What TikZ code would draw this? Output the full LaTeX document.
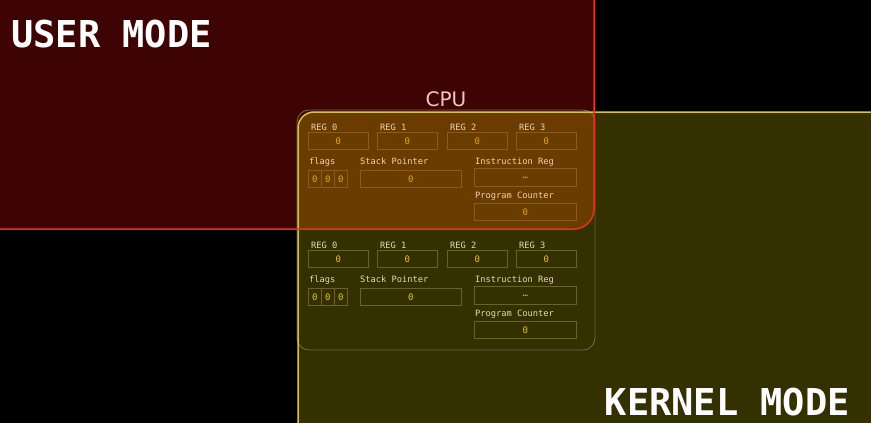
\documentclass[tikz,border=0pt]{standalone}
\usepackage{fontspec}
\setmainfont{DejaVu Sans}
\setsansfont{DejaVu Sans}
\setmonofont{DejaVu Sans Mono}
\usetikzlibrary{positioning}

\definecolor{usrfill}{HTML}{3E0404}
\definecolor{usrline}{HTML}{E8321C}
\definecolor{krnfill}{HTML}{343000}
\definecolor{krnline}{HTML}{D8C040}
\definecolor{ovlfill}{HTML}{6B3C00}
\definecolor{cpuline}{HTML}{6E6450}
\definecolor{usrfield}{HTML}{8A5A22}
\definecolor{krnfield}{HTML}{6A6222}
\definecolor{usrtext}{HTML}{F0D2B4}
\definecolor{usrval}{HTML}{E8A422}
\definecolor{krntext}{HTML}{E2DAC0}
\definecolor{krnval}{HTML}{E8C422}
\definecolor{cputext}{HTML}{F4C4C4}

\tikzset{
  modebox/.style={line width=1.5pt, rounded corners=16pt},
  modetitle/.style={
    text=white,
    inner sep=0pt,
    font=\ttfamily\bfseries\fontsize{37}{37}\selectfont
  },
  fieldbox/.style={
    draw=#1,
    line width=0.8pt,
    inner sep=0pt,
    anchor=north west,
    font=\ttfamily\fontsize{9}{9}\selectfont
  },
  fieldname/.style={
    inner sep=0pt,
    anchor=base west,
    font=\ttfamily\fontsize{8.7}{8.7}\selectfont
  }
}

\begin{document}
\begin{tikzpicture}[x=1pt, y=-1pt]

% Canvas
\useasboundingbox (0,0) rectangle (871,423);
\fill[black] (0,0) rectangle (871,423);
\clip (0,0) rectangle (871,423);

% Mode areas
\fill[krnfill, modebox] (298,112) rectangle (900,450);
\fill[usrfill, modebox, rounded corners=20pt] (-30,-30) rectangle (594,229);
\begin{scope}
  \clip[rounded corners=20pt] (-30,-30) rectangle (594,229);
  \fill[ovlfill, modebox] (298,112) rectangle (900,450);
\end{scope}

% CPU outline
\draw[cpuline, line width=0.9pt, rounded corners=12pt] (297,110) rectangle (595,350);
\node[text=cputext, font=\sffamily\fontsize{20}{20}\selectfont, inner sep=0pt, anchor=base] (cpu) at (446,106) {CPU};

\draw[krnline, modebox] (298,112) rectangle (900,450);
\draw[usrline, modebox, rounded corners=20pt] (-30,-30) rectangle (594,229);

% Titles
\node[modetitle, anchor=base west] (usermode) at (11,47) {USER MODE};
\node[modetitle, anchor=base east] (kernelmode) at (850,415) {KERNEL MODE};

% Register sets
\foreach \p/\dy/\lc/\vc/\bc in {u/0/usrtext/usrval/usrfield, k/118/krntext/krnval/krnfield}{
  \foreach \i/\x in {0/308,1/377,2/447,3/516}{
    \node[fieldname, text=\lc] (\p reglbl\i) at (\x+3,130+\dy) {REG \i};
    \node[fieldbox=\bc, minimum width=60pt, minimum height=17pt, text=\vc] (\p reg\i) at (\x,132+\dy) {0};
  }
  \node[fieldname, text=\lc] (\p flagslbl) at (309,164+\dy) {flags};
  \foreach \j/\x in {0/308,1/321,2/334}{
    \node[fieldbox=\bc, minimum width=13pt, minimum height=17pt, text=\vc] (\p flag\j) at (\x,170+\dy) {0};
  }
  \node[fieldname, text=\lc] (\p splbl) at (360,164+\dy) {Stack Pointer};
  \node[fieldbox=\bc, minimum width=101pt, minimum height=17pt, text=\vc] (\p sp) at (360,170+\dy) {0};
  \node[fieldname, text=\lc] (\p irlbl) at (475,164+\dy) {Instruction Reg};
  \node[fieldbox=\bc, minimum width=102pt, minimum height=18pt, text=\vc] (\p ir) at (474,168+\dy) {…};
  \node[fieldname, text=\lc] (\p pclbl) at (475,198+\dy) {Program Counter};
  \node[fieldbox=\bc, minimum width=102pt, minimum height=17pt, text=\vc] (\p pc) at (474,203+\dy) {0};
}

\end{tikzpicture}
\end{document}
